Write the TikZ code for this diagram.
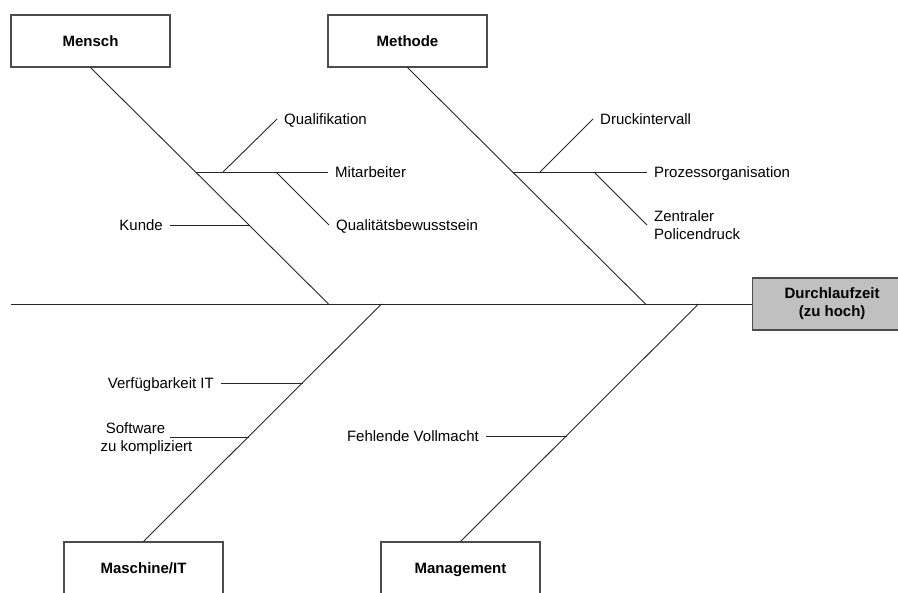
\documentclass[tikz,border=0pt]{standalone}
\usepackage{fontspec}
\setmainfont{Liberation Sans}
\definecolor{effectgray}{RGB}{192,192,192}
\begin{document}
\begin{tikzpicture}[x=1pt,y=-1pt,
  bone/.style={draw=black!85, line width=0.9pt},
  boxbase/.style={draw=black!70, line width=1.2pt, fill=white,
    minimum width=159pt, minimum height=52pt, inner sep=0pt,
    font=\fontsize{15}{18}\selectfont\bfseries, align=center},
  catbox/.style={boxbase, text height=10.7pt, text depth=0pt},
  lbl/.style={inner ysep=0pt, inner xsep=7pt,
    font=\fontsize{15}{17}\selectfont, text height=10.7pt, text depth=0pt},
  lbltwo/.style={inner ysep=0pt, inner xsep=7pt,
    font=\fontsize{15}{18}\selectfont},
]
\useasboundingbox (0,0) rectangle (898,593);

% category boxes and the effect
\node[catbox] (mensch)     at (90.5,41)   {Mensch};
\node[catbox] (methode)    at (407.5,41)  {Methode};
\node[catbox] (maschine)   at (143.5,568) {Maschine/IT};
\node[catbox] (management) at (460.5,568) {Management};
\node[boxbase, fill=effectgray, anchor=west] (effect) at (752,304) {Durchlaufzeit\\(zu hoch)};

% spine
\coordinate (tail) at (11,304);
\draw[bone] (tail) -- (effect.west);

% main bones meeting the spine
\coordinate (sMensch)  at (328.5,304);
\coordinate (sMethode) at (645.5,304);
\coordinate (sMasch)   at (381.5,304);
\coordinate (sMgmt)    at (698.5,304);
\draw[bone] (mensch.south) -- (sMensch);
\draw[bone] (methode.south) -- (sMethode);
\draw[bone] (maschine.north) -- (sMasch);
\draw[bone] (management.north) -- (sMgmt);

% Mensch causes
\coordinate (jMit) at (196.5,172);
\coordinate (jQua) at (223,172);
\coordinate (jBew) at (276,172);
\coordinate (jKun) at (249.5,225);
\node[lbl, anchor=west] (mitarb) at (328,172) {Mitarbeiter};
\node[lbl, anchor=west] (qualif) at (277,119) {Qualifikation};
\node[lbl, anchor=west] (qbew)   at (329,225) {Qualitätsbewusstsein};
\node[lbl, anchor=east] (kunde)  at (170,225) {Kunde};
\draw[bone] (jMit) -- (mitarb.west);
\draw[bone] (jQua) -- (qualif.west);
\draw[bone] (jBew) -- (qbew.west);
\draw[bone] (kunde.east) -- (jKun);

% Methode causes
\coordinate (jPro) at (513.5,172);
\coordinate (jDru) at (540,172);
\coordinate (jZen) at (594,172);
\node[lbl, anchor=west] (prozess) at (647,172) {Prozessorganisation};
\node[lbl, anchor=west] (druck)   at (593,119) {Druckintervall};
\node[lbltwo, anchor=west, align=left] (zentral) at (647,225) {Zentraler\\Policendruck};
\draw[bone] (jPro) -- (prozess.west);
\draw[bone] (jDru) -- (druck.west);
\draw[bone] (jZen) -- (zentral.west);

% Maschine/IT causes
\coordinate (jVer) at (302.5,383);
\coordinate (jSof) at (248.5,437);
\coordinate (sSof) at (170,437);
\node[lbl, anchor=east] (verf) at (221,383) {Verfügbarkeit IT};
\node[lbltwo, align=center] (soft) at (146.5,438.5) {Software\hspace*{22pt}\\zu kompliziert};
\draw[bone] (verf.east) -- (jVer);
\draw[bone] (sSof) -- (jSof);

% Management causes
\coordinate (jFeh) at (566.5,436);
\node[lbl, anchor=east] (fehl) at (486,436) {Fehlende Vollmacht};
\draw[bone] (fehl.east) -- (jFeh);
\end{tikzpicture}
\end{document}
